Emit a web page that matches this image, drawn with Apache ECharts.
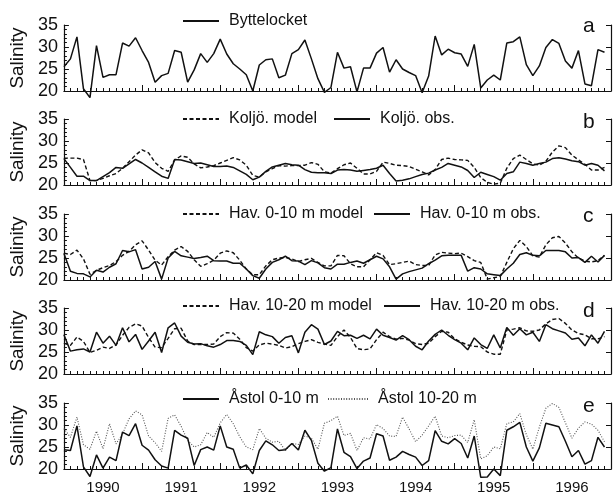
<!DOCTYPE html>
<html>
<head>
<meta charset="utf-8">
<script src="https://cdn.jsdelivr.net/npm/echarts@6/dist/echarts.min.js"></script>
<style>
  html, body { margin: 0; padding: 0; background: #fff; }
  #chart { width: 615px; height: 495px; }
</style>
</head>
<body>
<div id="chart"></div>
<script>
// Monthly salinity, Jan 1990 - Dec 1996
const years = ['1990', '1991', '1992', '1993', '1994', '1995', '1996'];
const startYear = 1990;
const endYear = 1997;

const byttelocket = [
  25.5, 27.3, 32.3, 20.5, 18.5, 30.3, 23.1, 23.7, 23.7, 30.9, 30.2, 32.1,
  29.2, 26.5, 22.0, 23.5, 24.0, 29.2, 28.8, 22.0, 24.8, 28.5, 26.5, 28.5,
  31.8, 28.4, 26.2, 25.0, 23.7, 20.0, 25.9, 27.1, 27.3, 23.0, 23.6, 28.5,
  29.4, 31.6, 27.3, 22.8, 19.7, 20.8, 28.8, 25.2, 25.5, 19.8, 25.2, 25.2,
  28.6, 29.9, 24.3, 27.1, 25.0, 24.2, 23.5, 19.6, 23.4, 32.5, 28.2, 29.5,
  28.7, 28.4, 25.6, 30.6, 20.7, 22.5, 23.6, 22.5, 30.9, 31.2, 32.3, 26.0,
  23.5, 25.7, 29.9, 31.7, 30.8, 26.8, 25.2, 29.2, 21.6, 21.2, 29.4, 28.8
];

const koljoModel = [
  26.1, 26.1, 26.1, 25.8, 21.0, 21.0, 21.5, 22.1, 22.6, 23.8, 25.3, 26.8,
  28.0, 27.3, 25.1, 23.8, 23.1, 25.7, 26.6, 26.3, 24.8, 23.9, 24.1, 24.4,
  25.0, 25.6, 26.2, 25.7, 24.5, 22.2, 21.8, 23.0, 23.7, 24.4, 24.3, 24.4,
  24.4, 24.5, 25.1, 24.7, 23.0, 22.7, 23.7, 24.6, 25.0, 23.8, 22.5, 22.5,
  23.1, 25.2, 24.9, 24.5, 24.4, 24.2, 23.6, 23.0, 22.3, 23.5, 25.8, 26.1,
  25.8, 25.7, 25.6, 24.0, 21.7, 20.6, 20.2, 20.4, 23.8, 26.0, 26.8, 25.8,
  24.8, 24.5, 25.4, 27.5, 28.9, 28.5, 26.8, 25.7, 24.7, 23.4, 23.4, 24.0
];
const koljoObs = [
  26.0, 24.0, 22.0, 22.0, 21.0, 21.0, 21.9, 22.8, 24.0, 23.8, 24.8, 25.8,
  25.0, 24.0, 23.0, 22.0, 21.5, 25.8, 25.7, 25.3, 24.9, 25.0, 24.6, 24.2,
  24.2, 24.3, 24.0, 23.2, 22.4, 21.2, 21.8, 23.1, 24.1, 24.5, 24.9, 24.6,
  24.5, 23.5, 22.9, 22.8, 22.8, 22.6, 23.4, 23.5, 23.4, 23.1, 23.3, 23.5,
  23.8, 24.5, 22.6, 20.9, 21.1, 21.4, 21.9, 22.4, 22.7, 23.4, 24.0, 24.9,
  24.5, 24.1, 23.3, 21.7, 22.9, 22.4, 21.9, 21.1, 22.6, 23.0, 25.2, 24.9,
  24.5, 24.9, 25.2, 26.0, 26.2, 25.9, 25.5, 25.3, 24.5, 24.9, 24.5, 23.2
];

const hav010Model = [
  26.1, 25.8, 26.8, 24.8, 21.3, 22.2, 22.8, 23.3, 24.2, 25.6, 26.5, 28.0,
  28.9, 26.8, 24.5, 23.4, 25.3, 26.8, 27.6, 26.5, 24.6, 23.1, 23.7, 24.5,
  26.1, 26.6, 26.2, 24.5, 22.5, 21.2, 21.2, 23.2, 24.6, 25.0, 25.1, 24.8,
  24.2, 24.6, 24.9, 24.0, 23.2, 23.2, 25.6, 25.5, 23.7, 23.0, 23.0, 24.6,
  26.2, 25.6, 23.5, 23.7, 24.0, 24.3, 23.5, 23.3, 23.3, 25.7, 26.3, 26.1,
  26.0, 26.1, 25.3, 24.4, 24.0, 20.2, 20.5, 20.8, 24.0, 27.1, 29.0, 27.6,
  25.5, 25.2, 28.0, 29.6, 29.9, 28.4, 26.4, 25.0, 24.3, 24.1, 24.4, 25.6
];
const hav010Obs = [
  26.0, 22.0, 21.5, 21.4, 20.7, 22.2, 21.8, 22.9, 23.7, 26.7, 26.4, 26.9,
  22.5, 22.9, 24.2, 20.2, 25.0, 26.5, 25.5, 25.2, 24.9, 25.1, 25.4, 24.4,
  24.3, 24.3, 23.8, 23.8, 22.5, 21.0, 20.4, 22.5, 24.0, 24.6, 25.4, 24.4,
  24.3, 23.5, 24.4, 23.9, 22.8, 22.5, 23.6, 23.6, 24.0, 24.3, 23.8, 24.6,
  25.4, 24.8, 23.0, 20.2, 21.4, 21.9, 22.3, 22.7, 23.7, 24.5, 25.5, 25.6,
  25.6, 25.6, 22.0, 22.8, 22.5, 21.4, 21.2, 21.0, 22.5, 23.8, 25.8, 26.2,
  25.6, 25.5, 26.7, 26.7, 26.7, 26.4, 25.0, 25.1, 24.0, 25.4, 24.1, 25.6
];

const hav1020Model = [
  27.0, 26.5, 28.4, 27.4, 24.9, 25.4, 26.1, 25.8, 26.6, 28.8, 30.6, 31.4,
  30.9, 28.3, 26.1, 26.0, 28.1, 30.3, 30.4, 27.5, 26.7, 26.7, 26.7, 26.8,
  28.5, 29.4, 29.3, 27.9, 26.0, 25.2, 26.6, 27.0, 26.8, 26.5, 25.9, 26.2,
  26.9, 27.4, 27.8, 27.2, 26.8, 26.5, 28.5, 30.0, 28.3, 25.8, 25.5, 25.7,
  27.8, 29.5, 28.5, 27.9, 28.1, 27.7, 26.9, 26.7, 27.0, 28.5, 29.7, 29.5,
  28.0, 27.2, 26.6, 26.3, 26.2, 25.0, 24.5, 24.5, 30.0, 30.2, 30.5, 29.8,
  29.7, 30.0, 31.4, 32.4, 32.6, 31.5, 30.0, 29.2, 28.9, 28.0, 28.0, 28.5
];
const hav1020Obs = [
  28.9, 25.2, 25.5, 25.7, 25.0, 29.5, 27.0, 28.6, 26.5, 30.5, 27.3, 29.0,
  25.6, 27.5, 29.5, 24.9, 30.5, 31.6, 28.6, 27.2, 26.8, 26.9, 26.4, 26.1,
  26.7, 27.6, 27.6, 27.4, 26.5, 24.4, 29.6, 28.9, 28.5, 27.0, 28.3, 28.7,
  24.8, 29.5, 31.2, 30.2, 26.7, 27.5, 29.7, 28.7, 28.8, 28.1, 28.8, 28.0,
  30.2, 28.8, 28.3, 27.7, 28.7, 27.8, 26.3, 25.5, 27.5, 29.0, 30.0, 28.8,
  27.8, 27.0, 25.5, 28.2, 26.7, 25.8, 28.9, 25.9, 30.6, 28.8, 30.3, 28.9,
  29.5, 27.4, 31.2, 30.3, 29.8, 29.3, 27.9, 28.2, 26.4, 28.9, 27.0, 29.7
];

const astol010 = [
  24.4, 24.2, 29.8, 20.5, 18.3, 23.2, 20.2, 22.7, 21.9, 28.4, 27.6, 30.3,
  25.4, 24.3, 22.1, 20.7, 20.2, 28.8, 27.7, 27.0, 20.8, 24.4, 25.0, 24.3,
  29.8, 25.0, 24.5, 20.2, 20.9, 18.9, 24.2, 26.4, 25.5, 24.2, 24.4, 25.8,
  24.3, 28.8, 26.5, 21.3, 19.5, 20.3, 29.1, 23.8, 22.8, 20.1, 21.8, 22.5,
  28.0, 27.5, 22.0, 22.7, 24.0, 23.3, 22.7, 20.8, 21.9, 28.7, 26.3, 25.7,
  26.9, 25.8, 22.5, 27.5, 18.1, 18.2, 20.0, 18.5, 28.8, 29.6, 30.6, 25.0,
  21.8, 24.8, 30.4, 30.0, 29.6, 26.3, 22.8, 24.2, 21.1, 21.9, 27.2, 25.0
];
const astol1020 = [
  29.2, 27.2, 31.8, 25.5, 24.5, 28.6, 24.6, 30.3, 25.7, 28.0, 31.4, 33.2,
  32.3, 27.5, 26.0, 24.0, 31.5, 32.3, 29.7, 26.5, 25.0, 25.5, 28.3, 27.2,
  30.5, 32.4, 30.3, 27.3, 25.0, 24.4, 29.2, 27.0, 26.1, 26.3, 24.2, 25.8,
  25.6, 27.5, 27.0, 24.5, 30.4, 31.0, 32.0, 27.6, 28.1, 24.2, 27.1, 26.8,
  30.1, 29.2, 27.5, 27.4, 31.8, 29.1, 26.2, 27.7, 29.8, 32.0, 27.5, 27.1,
  27.6, 27.7, 26.0, 31.2, 22.3, 23.0, 25.0, 24.6, 30.3, 30.7, 32.6, 27.8,
  24.5, 29.5, 33.8, 34.9, 34.0, 30.5, 27.0, 29.3, 30.7, 30.2, 28.8, 26.2
];

// sampling dates (decimal years, one per month)
const monthTimes = byttelocket.map((_, i) => startYear + i / 12);
const toPairs = vals => vals.map((v, i) => [monthTimes[i], v]);

const FONT = '"Liberation Sans", Arial, Helvetica, sans-serif';
const INK = '#111';

const lineStyles = {
  solid:  { type: 'solid', width: 1.5, color: INK },
  dashed: { type: [4, 2.5], width: 1.4, color: INK },
  dotted: { type: [1, 1.6], width: 1.1, color: '#555' }
};

const layout = {
  left: 61, right: 4, height: 66,
  tops: [25, 119, 214, 308, 403],
  legendMid: [21, 119, 214, 306, 399],
  letterTop: [16, 112, 206, 301, 396]
};

const panels = [
  { letter: 'a', lines: [
    { name: 'Byttelocket', values: byttelocket, style: 'solid', legendLeft: 182 }] },
  { letter: 'b', lines: [
    { name: 'Koljö. model', values: koljoModel, style: 'dashed', legendLeft: 182 },
    { name: 'Koljö. obs.', values: koljoObs, style: 'solid', legendLeft: 333 }] },
  { letter: 'c', lines: [
    { name: 'Hav. 0-10 m model', values: hav010Model, style: 'dashed', legendLeft: 182 },
    { name: 'Hav. 0-10 m obs.', values: hav010Obs, style: 'solid', legendLeft: 373 }] },
  { letter: 'd', lines: [
    { name: 'Hav. 10-20 m model', values: hav1020Model, style: 'dashed', legendLeft: 182 },
    { name: 'Hav. 10-20 m obs.', values: hav1020Obs, style: 'solid', legendLeft: 383 }] },
  { letter: 'e', lines: [
    { name: 'Åstol 0-10 m', values: astol010, style: 'solid', legendLeft: 182 },
    { name: 'Åstol 10-20 m', values: astol1020, style: 'dotted', legendLeft: 327 }] }
];

const n = panels.length;
const grid = [], xAxis = [], yAxis = [], series = [], legend = [], title = [];

panels.forEach((p, i) => {
  grid.push({ left: layout.left, right: layout.right, top: layout.tops[i], height: layout.height });

  xAxis.push({
    type: 'value', gridIndex: i, min: startYear, max: endYear, interval: 1,
    axisLine: { show: true, lineStyle: { color: INK, width: 1.2 } },
    axisTick: { show: true, inside: true, length: 6, lineStyle: { color: INK, width: 1 } },
    minorTick: { show: true, splitNumber: 12, length: 3, lineStyle: { color: INK, width: 1 } },
    axisLabel: { show: false },
    splitLine: { show: false }, minorSplitLine: { show: false }
  });

  yAxis.push({
    type: 'value', gridIndex: i, position: 'left', min: 20, max: 35, interval: 5,
    name: 'Salinity', nameLocation: 'middle', nameGap: 36,
    nameTextStyle: { fontSize: 19, fontFamily: FONT, color: INK },
    axisLine: { show: true, lineStyle: { color: INK, width: 1.2 } },
    axisTick: { show: true, inside: true, length: 5, lineStyle: { color: INK, width: 1 } },
    minorTick: { show: true, splitNumber: 5, length: 3, lineStyle: { color: INK, width: 1 } },
    axisLabel: { fontSize: 18, fontFamily: FONT, color: INK, margin: 6 },
    splitLine: { show: false }, minorSplitLine: { show: false }
  });

  title.push({
    text: p.letter, left: 583, top: layout.letterTop[i], padding: 0,
    textStyle: { fontSize: 21, fontWeight: 'normal', fontFamily: FONT, color: INK }
  });

  p.lines.forEach(l => {
    series.push({
      type: 'line', name: l.name, xAxisIndex: i, yAxisIndex: i,
      data: toPairs(l.values), symbol: 'none', showSymbol: false, clip: false,
      color: INK, lineStyle: lineStyles[l.style], z: l.style === 'dotted' ? 1 : 2
    });
    legend.push({
      data: [l.name], left: l.legendLeft, top: layout.legendMid[i] - 8,
      padding: 0, itemWidth: l.style === 'dotted' ? 40 : 36, itemHeight: 14,
      selectedMode: false,
      itemStyle: { opacity: 0 },
      textStyle: { fontSize: 16, fontFamily: FONT, color: INK, lineHeight: 16, padding: [0, 0, 0, 5] }
    });
  });
});

// right-hand frame axes
panels.forEach((p, i) => {
  yAxis.push({
    type: 'value', gridIndex: i, position: 'right', min: 20, max: 35, interval: 5,
    axisLine: { show: true, lineStyle: { color: INK, width: 1.2 } },
    axisTick: { show: true, inside: true, length: 5, lineStyle: { color: INK, width: 1 } },
    axisLabel: { show: false }, splitLine: { show: false }
  });
});

// year labels centred within each year along the bottom panel
xAxis.push({
  type: 'category', gridIndex: n - 1, position: 'bottom', data: years, boundaryGap: true,
  axisLine: { show: false }, axisTick: { show: false }, splitLine: { show: false },
  axisLabel: { fontSize: 15, fontFamily: FONT, color: INK, margin: 11 }
});

const chart = echarts.init(document.getElementById('chart'), null, { renderer: 'canvas' });
chart.setOption({
  backgroundColor: '#fff',
  animation: false,
  grid, xAxis, yAxis, series, legend, title
});
</script>
</body>
</html>
